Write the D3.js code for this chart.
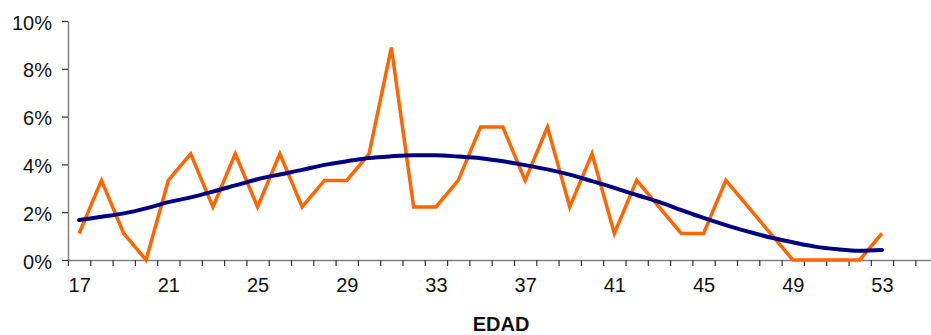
<!DOCTYPE html>
<html>
<head>
<meta charset="utf-8">
<script src="https://cdn.jsdelivr.net/npm/d3@7"></script>
<style>
  body { margin: 0; background: #fff; }
  svg { display: block; font-family: "Liberation Sans", Arial, sans-serif; }
</style>
</head>
<body>
<svg id="chart" width="931" height="335"></svg>
<script>
// ages on the x axis
const ages = [17, 18, 19, 20, 21, 22, 23, 24, 25, 26, 27, 28, 29, 30, 31, 32, 33, 34, 35,
  36, 37, 38, 39, 40, 41, 42, 43, 44, 45, 46, 47, 48, 49, 50, 51, 52, 53];

// observed share per age (%)
const observed = [1.11, 3.33, 1.11, 0, 3.33, 4.44, 2.22, 4.44, 2.22, 4.44, 2.22, 3.33, 3.33,
  4.44, 8.89, 2.22, 2.22, 3.33, 5.56, 5.56, 3.33, 5.56, 2.22, 4.44, 1.11, 3.33, 2.22, 1.11,
  1.11, 3.33, 2.22, 1.11, 0, 0, 0, 0, 1.11];

// fitted trend curve (%)
const trend = [1.67, 1.81, 1.95, 2.16, 2.42, 2.62, 2.86, 3.12, 3.38, 3.58, 3.77, 3.98, 4.13,
  4.27, 4.34, 4.38, 4.38, 4.33, 4.26, 4.13, 3.97, 3.79, 3.57, 3.3, 3.02, 2.72, 2.43, 2.09,
  1.76, 1.46, 1.19, 0.94, 0.74, 0.56, 0.45, 0.39, 0.42];

const xLabels = [17, 21, 25, 29, 33, 37, 41, 45, 49, 53];
const yTicks = [0, 2, 4, 6, 8, 10];

const svg = d3.select("#chart");

const plotLeft = 68, plotTop = 21, plotBottom = 260;
const step = 22.3;

// category slots: 17 .. 55
const xScale = d3.scaleLinear()
  .domain([16.5, 55.5])
  .range([plotLeft, plotLeft + step * 39]);

const yScale = d3.scaleLinear()
  .domain([0, 10])
  .range([plotBottom, plotTop]);

// x axis: tick marks on slot boundaries
const boundaries = d3.range(16.5, 56, 1);
svg.append("g")
  .attr("class", "x-axis")
  .attr("transform", `translate(0, ${plotBottom})`)
  .call(d3.axisBottom(xScale).tickValues(boundaries).tickFormat("").tickSize(6).tickSizeOuter(0));

svg.append("g")
  .attr("class", "x-labels")
  .attr("transform", `translate(0, ${plotBottom})`)
  .call(d3.axisBottom(xScale).tickValues(xLabels).tickFormat(d => d).tickSize(0).tickPadding(25));

svg.selectAll(".x-labels path").remove();

// y axis
svg.append("g")
  .attr("class", "y-axis")
  .attr("transform", `translate(${plotLeft}, 0)`)
  .call(d3.axisLeft(yScale).tickValues(yTicks).tickFormat(d => d + "%").tickSize(6).tickSizeOuter(0).tickPadding(10));

svg.selectAll(".x-axis path, .y-axis path").attr("stroke", "#7f7f7f").attr("stroke-width", 1.5);
svg.selectAll(".x-axis line, .y-axis line").attr("stroke", "#333").attr("stroke-width", 1.2);
svg.selectAll(".x-labels text, .y-axis text")
  .attr("fill", "#111")
  .style("font-size", "20px")
  .style("font-family", "Liberation Sans, Arial, sans-serif");
svg.selectAll(".y-axis text").attr("dy", "0.4em");
svg.selectAll(".x-labels text").attr("dy", "0.35em");

// axis title
svg.append("text")
  .attr("x", 501)
  .attr("y", 331)
  .attr("text-anchor", "middle")
  .style("font-size", "20px")
  .style("font-weight", "bold")
  .attr("fill", "#111")
  .text("EDAD");

// observed line
const obsLine = d3.line()
  .x((d, i) => xScale(ages[i]))
  .y(d => yScale(d));

svg.append("path")
  .datum(observed)
  .attr("fill", "none")
  .attr("stroke", "#ff6600")
  .attr("stroke-width", 3.5)
  .attr("stroke-linejoin", "miter")
  .attr("d", obsLine);

// trend curve
const trendLine = d3.line()
  .x((d, i) => xScale(ages[i]))
  .y(d => yScale(d))
  .curve(d3.curveMonotoneX);

svg.append("path")
  .datum(trend)
  .attr("fill", "none")
  .attr("stroke", "#000080")
  .attr("stroke-width", 4)
  .attr("stroke-linecap", "round")
  .attr("d", trendLine);
</script>
</body>
</html>
